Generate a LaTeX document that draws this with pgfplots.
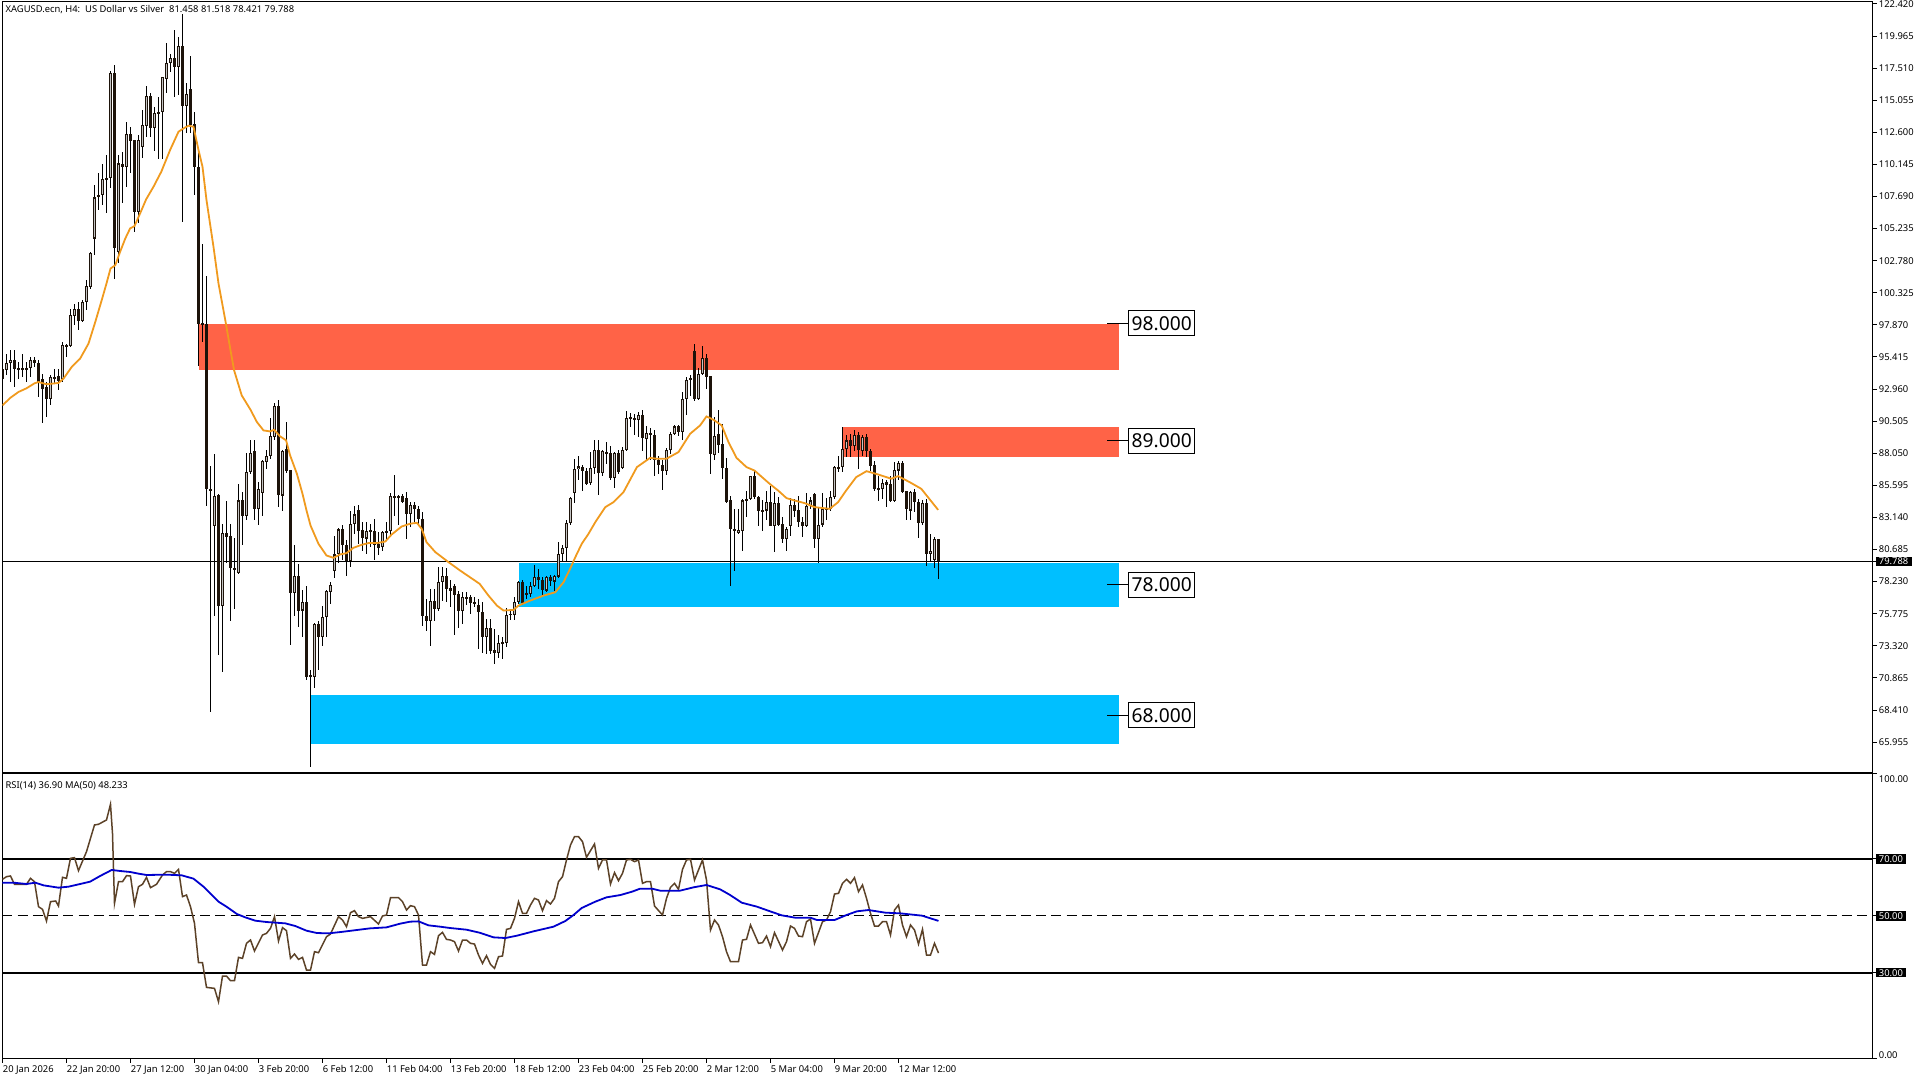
\documentclass[border=0pt]{standalone}
\usepackage{fontspec}
\setmainfont{Noto Sans}
\usepackage{pgfplots}
\usepackage{pgfplotstable}
\pgfplotsset{compat=1.18}
\definecolor{zonered}{HTML}{FF6347}
\definecolor{zoneblue}{HTML}{00BFFF}
\definecolor{emaorange}{HTML}{F09A1E}
\definecolor{rsibrown}{HTML}{5C4228}
\definecolor{rsiblue}{HTML}{0000CD}
\definecolor{bullbody}{HTML}{C4C4C4}
\newcommand{\ticktext}{\fontsize{4.7}{5.5}\selectfont}
\pgfplotstableread{
k o h l c
0 94.53 94.53 93.12 93.76
1 94.45 95.63 94.02 94.99
2 94.99 95.93 93.51 95.22
3 95.22 95.93 93.12 94.53
4 94.60 95.04 93.76 94.45
5 94.60 95.63 93.89 94.45
6 94.45 95.04 93.51 94.60
7 94.60 95.42 93.89 95.22
8 95.22 95.42 94.65 94.99
9 94.99 95.17 92.33 93.51
10 93.76 94.14 90.37 93.00
11 93.12 93.51 90.83 92.23
12 92.23 94.02 91.72 93.89
13 93.89 94.53 93.38 93.76
14 93.94 94.53 92.92 93.56
15 93.76 96.57 93.51 96.31
16 96.31 96.44 95.42 96.19
17 96.26 99.12 96.19 98.61
18 98.53 99.50 97.84 99.12
19 99.12 99.63 97.46 98.18
20 98.18 99.76 98.10 99.63
21 99.63 101.34 98.99 100.83
22 100.78 103.46 100.65 103.38
23 104.48 108.56 103.20 107.62
24 107.62 109.46 106.65 107.80
25 107.80 110.17 107.03 109.00
26 109.02 110.86 106.40 109.08
27 109.08 117.32 108.31 117.11
28 117.11 117.75 101.42 103.72
29 103.46 110.86 102.57 110.22
30 110.17 111.12 107.21 109.92
31 109.92 113.41 108.44 112.44
32 112.44 113.03 109.46 111.96
33 112.00 112.00 104.99 106.52
34 106.52 112.39 105.63 112.00
35 111.50 114.31 110.61 113.16
36 113.08 116.15 112.27 115.38
37 115.38 115.58 112.21 112.95
38 112.95 114.56 111.19 114.05
39 114.13 115.33 110.53 114.05
40 114.13 116.81 110.53 116.81
41 116.66 119.46 115.58 117.88
42 117.88 118.60 117.24 118.26
43 118.26 120.43 115.33 117.63
44 117.63 119.92 115.46 119.21
45 119.21 121.66 105.76 114.61
46 114.61 116.35 112.52 115.53
47 115.89 118.44 112.52 113.16
48 113.24 114.18 107.80 109.97
49 109.92 110.99 94.71 97.92
50 97.92 104.05 96.57 97.97
51 97.97 101.60 83.98 85.34
52 85.34 87.05 68.23 85.16
53 82.48 87.96 75.59 84.82
54 84.82 84.95 72.65 76.35
55 76.35 82.66 71.30 81.94
56 81.94 84.37 79.64 81.63
57 81.69 82.66 75.25 79.26
58 79.28 81.58 76.12 79.18
59 78.90 85.67 78.83 84.44
60 84.44 85.08 81.00 83.24
61 83.24 88.07 82.96 86.64
62 86.61 89.09 86.48 88.07
63 88.19 89.09 82.91 83.75
64 83.75 85.85 82.60 85.34
65 85.03 87.56 83.22 87.43
66 87.38 88.32 86.87 87.86
67 87.81 90.77 87.63 89.34
68 89.29 91.89 89.04 91.64
69 91.64 92.15 83.93 84.82
70 84.82 88.32 83.63 88.22
71 88.40 90.44 86.53 86.69
72 86.74 86.79 73.42 77.35
73 77.35 81.07 75.64 78.70
74 78.70 79.59 74.74 76.02
75 76.02 77.60 73.98 76.71
76 76.71 77.93 70.74 70.91
77 71.09 71.48 64.02 70.91
78 70.91 75.08 70.07 75.00
79 75.00 75.25 71.48 74.03
80 74.03 76.33 73.34 75.56
81 75.51 77.60 74.03 77.50
82 77.42 78.19 76.53 78.01
83 79.03 81.69 78.52 80.31
84 80.31 82.32 79.64 82.22
85 82.22 82.53 79.85 81.05
86 81.05 81.43 78.70 79.82
87 79.82 83.63 79.34 82.66
88 82.66 83.98 81.89 83.37
89 83.73 84.06 81.12 82.14
90 82.20 82.78 80.61 81.53
91 81.53 82.78 80.36 82.14
92 82.14 82.66 80.87 82.02
93 82.07 83.04 79.92 81.07
94 81.12 82.02 80.23 80.79
95 80.87 82.14 80.61 82.02
96 81.94 82.78 81.38 82.14
97 82.09 85.00 81.63 84.75
98 84.75 86.36 83.29 84.70
99 84.70 84.82 82.53 84.75
100 84.75 84.90 84.24 84.31
101 84.65 85.08 81.51 83.42
102 83.42 84.31 82.40 84.06
103 84.06 84.31 82.78 83.75
104 83.80 83.98 82.53 82.99
105 83.04 83.55 74.87 75.59
106 75.59 76.91 74.49 75.25
107 75.25 77.68 73.34 76.78
108 76.78 77.68 75.25 76.10
109 76.10 79.34 76.02 78.19
110 78.19 79.34 76.78 78.65
111 78.70 79.29 76.66 77.68
112 77.76 78.32 76.27 77.50
113 77.88 78.06 74.18 77.24
114 77.30 77.50 74.69 75.97
115 75.97 77.42 75.00 77.09
116 77.04 77.42 76.48 76.89
117 77.04 77.17 75.76 76.58
118 76.63 77.04 76.27 76.58
119 76.48 76.91 73.08 75.89
120 75.94 76.65 72.75 73.97
121 73.97 75.38 72.70 74.69
122 74.69 75.38 72.70 72.95
123 73.00 74.61 71.93 72.75
124 72.75 74.18 72.39 73.54
125 73.46 73.97 72.31 73.56
126 73.51 76.22 73.21 75.71
127 75.68 76.14 75.30 75.76
128 75.71 77.04 75.30 76.65
129 76.65 78.31 76.53 78.24
130 78.24 78.36 76.47 76.58
131 77.37 77.93 76.91 77.27
132 77.27 78.18 77.09 77.93
133 77.93 79.54 77.80 78.57
134 78.57 79.21 77.67 78.36
135 78.36 78.57 77.24 77.60
136 77.55 78.69 77.42 78.57
137 78.57 78.77 77.93 78.26
138 78.24 78.77 77.50 78.64
139 78.62 81.25 78.52 80.35
140 80.35 81.07 79.72 80.81
141 80.81 82.91 79.84 82.73
142 82.73 84.74 82.60 84.64
143 85.00 87.63 84.23 86.86
144 86.81 87.88 86.02 87.04
145 86.99 87.19 85.15 86.73
146 86.73 86.94 85.66 85.71
147 85.76 88.14 85.66 86.94
148 86.94 89.08 86.43 88.27
149 88.27 89.08 84.85 86.53
150 86.53 88.32 86.28 88.19
151 88.14 88.90 87.25 88.06
152 88.08 88.57 86.02 86.15
153 86.15 88.14 85.38 88.06
154 88.06 88.27 86.48 86.61
155 86.94 88.52 86.86 88.32
156 88.32 91.28 88.22 90.77
157 90.72 91.12 90.05 90.77
158 90.72 91.02 89.41 90.61
159 90.56 91.20 89.29 90.95
160 91.00 91.33 88.22 89.24
161 89.16 90.10 87.50 89.59
162 89.62 90.00 87.55 89.47
163 89.47 89.85 86.28 87.55
164 87.55 87.88 86.43 87.19
165 87.19 87.50 85.25 86.68
166 86.68 88.47 86.35 88.32
167 88.27 89.67 88.01 89.54
168 89.54 90.18 89.41 90.10
169 90.10 90.18 89.34 89.67
170 89.67 92.73 89.03 92.22
171 92.22 93.88 90.95 93.68
172 93.68 94.01 92.40 93.80
173 95.87 96.43 92.02 92.22
174 92.22 94.60 92.09 94.14
175 94.09 96.23 94.01 95.36
176 95.36 95.67 92.99 93.88
177 93.93 93.93 86.43 87.96
178 87.93 90.82 87.50 89.41
179 89.49 91.38 88.06 88.65
180 88.73 90.31 86.10 86.91
181 86.94 87.70 84.23 84.31
182 84.44 84.82 77.93 82.22
183 82.27 83.80 79.08 82.14
184 81.96 83.80 81.89 82.19
185 82.09 84.57 80.61 84.44
186 84.39 85.15 83.16 84.57
187 84.57 86.35 84.44 86.28
188 86.28 86.73 84.57 84.69
189 84.69 84.82 82.52 83.62
190 83.72 84.44 82.14 83.57
191 83.67 85.20 82.91 84.36
192 84.36 85.51 82.52 82.52
193 82.52 85.08 80.48 84.23
194 84.23 84.69 82.52 82.60
195 82.65 83.16 81.17 81.50
196 81.50 82.40 80.61 82.27
197 82.47 84.64 81.76 84.13
198 84.13 84.57 83.16 83.67
199 83.72 84.82 82.40 82.78
200 82.78 83.16 81.63 82.52
201 82.52 85.00 82.40 84.05
202 84.05 84.69 83.80 84.44
203 84.95 85.00 80.79 81.50
204 81.50 83.93 79.64 82.60
205 82.60 85.02 82.40 83.80
206 83.85 84.62 82.91 83.75
207 83.80 85.20 83.67 84.69
208 84.69 87.04 84.57 86.99
209 86.86 87.81 86.61 86.99
210 86.99 90.05 86.61 88.39
211 88.39 89.41 87.76 89.03
212 89.03 89.49 87.76 88.60
213 88.60 89.80 88.22 89.47
214 89.47 89.67 86.86 88.27
215 88.22 89.41 87.81 89.29
216 89.29 89.54 87.76 88.22
217 88.22 88.39 86.73 87.07
218 87.12 87.45 85.20 85.28
219 85.33 86.28 84.39 85.28
220 85.28 86.10 84.57 85.79
221 85.84 86.02 83.93 85.66
222 85.71 86.28 84.31 84.39
223 84.39 87.37 84.31 86.79
224 86.73 87.45 85.97 87.32
225 87.32 87.45 85.00 85.08
226 85.13 85.20 82.98 83.80
227 83.67 85.15 82.91 85.08
228 85.08 85.33 83.54 84.31
229 84.36 84.57 81.55 82.70
230 82.70 84.49 82.60 84.26
231 84.26 84.57 79.44 80.35
232 80.35 81.89 79.84 80.61
233 79.89 81.63 79.28 81.50
234 81.458 81.518 78.421 79.788
}\candles
\pgfplotstableread{
k v
0 91.72
2 92.30
4 92.74
6 93.02
8 93.40
9 93.50
11 93.33
14 93.43
15.25 93.76
17.3 94.65
19.4 95.29
21.5 96.44
23.2 98.10
24.8 99.76
26 101.04
27 102.18
28.2 102.44
29.4 103.46
30.7 104.48
31.9 105.25
33 105.43
34.4 106.40
35.9 107.47
37.75 108.44
39.7 109.59
41.9 111.25
44 112.65
45.25 112.90
46.5 113.11
47.75 113.03
49 111.25
50 109.97
51 107.42
52.75 103.84
54 101.04
55.7 98.23
57 95.93
57.9 94.40
59.8 92.48
62 91.38
63.6 90.44
65.25 89.80
66.9 89.72
67.9 89.85
69.4 89.34
70.9 89.04
71.9 87.89
73.6 86.48
75 84.95
76 83.68
77 82.53
79 81.12
81 80.23
82.75 80.05
84.4 80.31
86 80.41
87.75 80.82
89.8 81.05
91.5 81.18
93.6 81.18
95.7 81.30
97.3 81.84
99.8 82.45
101.9 82.66
103.6 82.73
104.8 82.27
106 81.25
108.2 80.49
111.5 79.72
114.4 79.08
119.3 78.06
121.5 77.16
123.6 76.40
125.25 76.02
127.75 76.07
129 76.40
131.9 76.78
135.25 77.16
138.2 77.42
140.25 78.18
141.9 79.21
143.2 80.10
144.8 81.12
146.5 81.89
148.2 82.78
150.7 83.93
152.75 84.31
155.25 85.08
158.6 86.99
161.9 87.70
163.6 87.63
166 87.63
169 88.14
171.9 89.54
174.4 90.18
176 90.87
177.75 90.61
179.8 90.18
181.5 88.90
183.5 87.70
186 86.99
188 86.73
191.8 85.71
193.9 85.20
196 84.62
198 84.44
200.6 84.23
203 83.93
206.8 83.80
208.9 84.31
210.9 85.20
213.4 86.22
216 86.68
218.9 86.43
222.2 86.10
223.9 86.30
226.8 85.84
229.7 85.33
233.9 83.72
}\ema
\pgfplotstableread{
k v
0 62.85
1 63.78
2 64.02
3 61.09
6 61.09
7 63.20
8 62.00
9 53.23
10 52.29
11 48.18
12 54.99
13.3 55.22
14 53.46
15 63.55
16 63.20
17 70.24
18 70.47
19 65.90
21 72.58
23 81.97
24 82.20
26 83.72
27 89.24
27.5 79.00
28 54.40
29 62.02
30 62.02
31 64.14
32 64.02
33 54.05
34 60.26
35 61.09
36 63.55
37 59.91
38.5 61.09
40 64.37
41 65.54
42 65.54
43 64.96
44 66.36
45 56.75
46 57.33
47 53.23
48 47.36
49 33.52
50 33.52
51 24.84
53 24.49
54 19.80
55 28.83
56 28.83
57 27.19
58 27.19
59 35.40
60 35.05
61 40.33
62 41.50
63 37.63
65 43.26
66 43.84
67 45.61
68 49.71
69 41.15
70 45.84
71 44.78
72 35.05
73 36.57
74 34.69
75 35.40
76 30.94
77 30.94
78 37.39
79 37.04
81 42.67
82 43.61
84 49.71
85 48.53
86 46.19
87 51.12
88 51.82
89 49.71
90 49.12
92 49.71
94 47.13
95 49.94
96 50.29
97 56.39
99 56.39
100 54.99
101 52.05
102 53.58
103 53.23
104 50.29
105 32.70
106 32.70
107 37.39
108 36.45
109 43.02
110 44.19
111 41.73
112 41.50
113 40.91
114 37.63
115 41.50
116 41.50
117 40.33
118 40.09
119 36.22
120 33.29
121 35.98
122 32.93
123 31.53
124 35.63
125 35.87
126 45.25
127 45.60
128 49.12
129 54.99
130 50.88
131 50.88
132 53.81
133 56.16
134 55.57
135 51.82
136 55.34
137 54.17
138 56.16
139 62.02
140 63.78
141 69.65
142 74.93
143 77.86
144 77.86
145 76.10
146 70.59
148 75.28
149 66.72
150 69.65
151 69.65
152 61.20
153 65.19
154 62.38
155 64.96
156 69.65
157 69.88
158 69.06
159 69.65
160 61.44
161 62.02
162 62.02
163 53.46
165 50.29
166 56.16
167 60.03
168 61.44
169 59.33
170 66.36
171 69.65
172 69.88
173 62.61
175 69.65
176 62.61
177 45.02
178 48.53
179 46.78
180 42.67
181 37.39
182 33.87
184 33.87
185 41.50
186 41.73
187 46.78
189 40.33
190 40.56
191 42.90
192 39.15
193 44.08
195 37.98
196 40.91
197 46.42
198 45.60
199 42.90
200 42.67
201 47.95
202 48.89
203 40.33
205 47.95
206 48.53
207 51.47
208 57.68
209 57.92
210 61.44
211 62.85
212 61.44
213 63.43
214 58.51
215 60.85
216 56.16
217 50.88
218 46.42
219 46.42
220 47.95
221 47.95
222 43.26
223 52.05
224 53.81
225 46.78
226 42.67
227 46.78
228 45.02
229 40.09
230 45.25
231 36.22
232 36.22
233 40.33
234 36.90
}\rsi
\pgfplotstableread{
k v
0 61.67
2.75 61.67
6 61.20
8.2 61.67
10.25 60.73
14 59.91
16.5 60.26
19.4 61.20
21.9 62.02
24.4 64.02
27.3 66.13
29.4 65.78
31.9 65.43
34 64.84
36 64.37
41 64.49
44.8 64.25
47.75 63.08
50.25 60.26
51.9 57.92
54 54.99
56 53.23
58.6 50.65
60.7 49.47
63.2 48.30
66 47.83
70.7 47.36
73.2 46.42
76 44.78
78.6 43.96
81.5 43.84
85.25 44.43
88.6 45.02
91.9 45.60
96 45.95
99.4 47.25
101.9 47.95
104 48.06
106.5 46.66
109.4 46.19
111.9 45.72
116 45.13
119.25 44.08
122.75 42.44
125.7 42.20
128.6 43.02
132.75 44.55
137.75 46.19
140.7 48.18
142.75 50.29
144.8 52.76
148.2 54.99
151 56.51
154.5 57.33
157.4 58.51
159.4 59.56
162.4 59.56
164.4 58.86
169.4 58.86
172.75 60.03
176 60.85
179.4 59.33
181.9 57.33
184.8 54.63
188.6 53.23
191.9 51.59
194.8 50.18
198.2 49.35
202 49.35
203.6 48.53
208 48.53
211 50.29
213.6 51.59
216.5 52.05
220.7 51.12
224.4 50.88
229.9 50.06
234 48.23
}\rsima
\begin{document}
\begin{tikzpicture}[x=1pt,y=1pt]
\path[use as bounding box] (0,0) rectangle (960,540);
\begin{axis}[
  at={(1.25pt,153.75pt)}, anchor=south west, scale only axis,
  width=935pt, height=385.25pt,
  xmin=0, xmax=467.5, ymin=63.63, ymax=122.573,
  axis line style={line width=0.5pt},
  xtick=\empty,
  ytick pos=right, yticklabel pos=right,
  tick align=outside, major tick length=2pt,
  tick style={line width=0.5pt,black},
  ytick={122.42,119.965,117.51,115.055,112.6,110.145,107.69,105.235,102.78,100.325,97.87,95.415,92.96,90.505,88.05,85.595,83.14,80.685,78.23,75.775,73.32,70.865,68.41,65.955},
  extra y ticks={79.788},
  extra y tick style={yticklabel style={fill=black,text=white,inner xsep=1.6pt,inner ysep=0.6pt,xshift=-0.6pt}},
  yticklabel style={font=\ticktext,anchor=west,inner xsep=1pt,inner ysep=0pt},
  /pgf/number format/.cd, fixed, fixed zerofill, precision=3, assume math mode=true,
]
% zones
\addplot[fill=zonered,draw=none,forget plot] coordinates {(49,97.93)(279,97.93)(279,94.42)(49,94.42)} -- cycle;
\addplot[fill=zonered,draw=none,forget plot] coordinates {(210,90.03)(279,90.03)(279,87.75)(210,87.75)} -- cycle;
\addplot[fill=zoneblue,draw=none,forget plot] coordinates {(129,79.62)(279,79.62)(279,76.27)(129,76.27)} -- cycle;
\addplot[fill=zoneblue,draw=none,forget plot] coordinates {(77,69.59)(279,69.59)(279,65.78)(77,65.78)} -- cycle;
% current price
\addplot[black,line width=0.5pt,forget plot] coordinates {(0,79.788)(467.5,79.788)};
% wicks
\addplot[draw=none,mark=none,forget plot,
  error bars/.cd,y dir=both,y explicit,error mark=none,error bar style={draw=black,solid,line width=0.5pt}]
  table[x=k,y expr={(\thisrow{h}+\thisrow{l})/2},y error plus expr={(\thisrow{h}-\thisrow{l})/2},y error minus expr={(\thisrow{h}-\thisrow{l})/2}] {\candles};
% bodies
\addplot[draw=none,mark=none,forget plot,
  error bars/.cd,y dir=both,y explicit,error mark=none,error bar style={draw=black!85!brown,solid,line width=1.5pt}]
  table[x=k,y expr={(\thisrow{o}+\thisrow{c})/2},y error plus expr={max(abs(\thisrow{o}-\thisrow{c})/2,0.07)},y error minus expr={max(abs(\thisrow{o}-\thisrow{c})/2,0.07)}] {\candles};
% bull body interiors
\addplot[draw=none,mark=none,forget plot,
  error bars/.cd,y dir=both,y explicit,error mark=none,error bar style={draw=bullbody,solid,line width=0.5pt}]
  table[x=k,y expr={\thisrow{c}-\thisrow{o}>0.2 ? (\thisrow{o}+\thisrow{c})/2 : nan},y error plus expr={abs(\thisrow{o}-\thisrow{c})/2-0.08},y error minus expr={abs(\thisrow{o}-\thisrow{c})/2-0.08}] {\candles};
% moving average
\addplot[emaorange,line width=0.9pt,forget plot] table[x=k,y=v] {\ema};
% levels
\addplot[black,line width=0.5pt,forget plot] coordinates {(276.2,98)(290,98)};
\addplot[black,line width=0.5pt,forget plot] coordinates {(276.2,89)(290,89)};
\addplot[black,line width=0.5pt,forget plot] coordinates {(276.2,78)(290,78)};
\addplot[black,line width=0.5pt,forget plot] coordinates {(276.2,68)(290,68)};
\foreach \lv in {98,89,78,68}{
  \edef\tmp{\noexpand\node[draw=black,line width=0.5pt,fill=white,text=black,font=\noexpand\fontsize{9.6}{11}\noexpand\selectfont,inner xsep=1.6pt,inner ysep=1.2pt,minimum height=12.5pt] at (axis cs:289.8,\lv) {\lv.000};}
  \tmp
}
\end{axis}
\begin{axis}[
  at={(1.25pt,10.5pt)}, anchor=south west, scale only axis,
  width=935pt, height=142.65pt,
  xmin=0, xmax=467.5, ymin=-0.35, ymax=100,
  axis line style={line width=0.5pt},
  xtick={0,16,32,48,64,80,96,112,128,144,160,176,192,208,224},
  xticklabels={20 Jan 2026,22 Jan 20:00,27 Jan 12:00,30 Jan 04:00,3 Feb 20:00,6 Feb 12:00,11 Feb 04:00,13 Feb 20:00,18 Feb 12:00,23 Feb 04:00,25 Feb 20:00,2 Mar 12:00,5 Mar 04:00,9 Mar 20:00,12 Mar 12:00},
  xtick pos=bottom, ytick pos=right, yticklabel pos=right,
  tick align=outside, major tick length=2pt,
  tick style={line width=0.5pt,black},
  xticklabel style={font=\ticktext,anchor=north west,inner xsep=0pt,inner ysep=1pt},
  ytick={0,100},
  yticklabels={\raisebox{-0.4pt}[0pt][0pt]{0.00},\raisebox{-4.6pt}[0pt][0pt]{100.00}},
  extra y ticks={30,50,70},
  extra y tick labels={30.00,50.00,70.00},
  extra y tick style={yticklabel style={fill=black,text=white,inner xsep=1.6pt,inner ysep=0.6pt,xshift=-0.6pt}},
  yticklabel style={font=\ticktext,anchor=west,inner xsep=1pt,inner ysep=0pt},
]
\addplot[black,line width=0.9pt,forget plot] coordinates {(0,70)(467.5,70)};
\addplot[black,line width=0.9pt,forget plot] coordinates {(0,30)(467.5,30)};
\addplot[black,line width=0.45pt,dash pattern=on 5pt off 2.6pt,forget plot] coordinates {(0,50)(467.5,50)};
\addplot[rsibrown,line width=0.75pt,forget plot] table[x=k,y=v] {\rsi};
\addplot[rsiblue,line width=0.9pt,forget plot] table[x=k,y=v] {\rsima};
\end{axis}
\node[anchor=west,inner sep=0pt,font=\ticktext] at (2.6,535.2) {XAGUSD.ecn, H4:\ \ US Dollar vs Silver\ \ 81.458 81.518 78.421 79.788};
\node[anchor=west,inner sep=0pt,font=\ticktext] at (2.6,147.2) {RSI(14) 36.90 MA(50) 48.233};
\end{tikzpicture}
\end{document}
